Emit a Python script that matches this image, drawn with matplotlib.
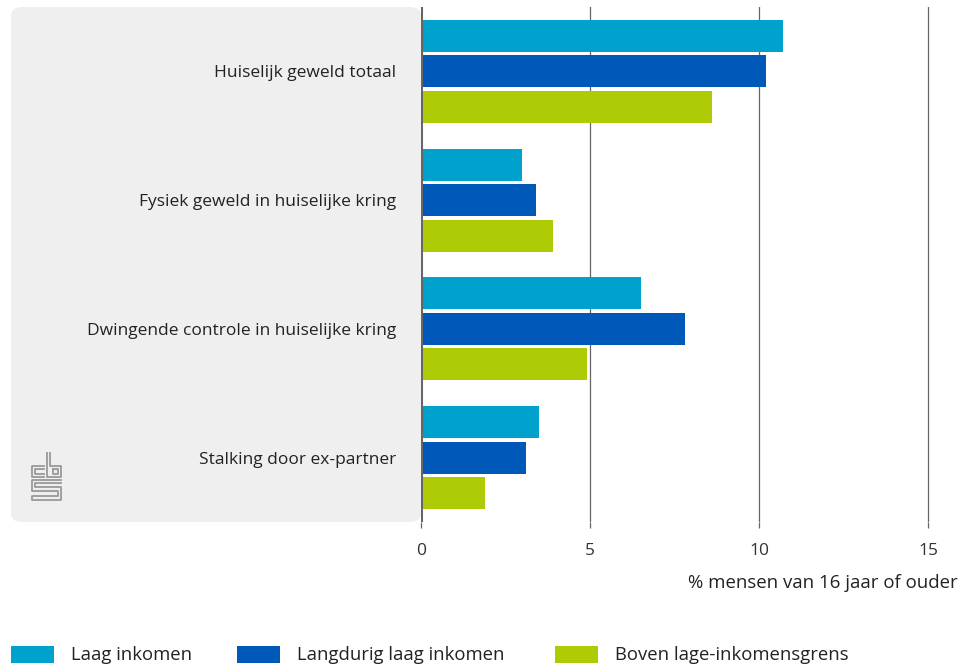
import numpy as np
import matplotlib.pyplot as plt
from matplotlib.patches import FancyBboxPatch, Rectangle
from matplotlib.lines import Line2D

plt.rcParams['font.family'] = ['Open Sans', 'DejaVu Sans']

# data
categories = ['Huiselijk geweld totaal', 'Fysiek geweld in huiselijke kring',
              'Dwingende controle in huiselijke kring', 'Stalking door ex-partner']
series = ['Laag inkomen', 'Langdurig laag inkomen', 'Boven lage-inkomensgrens']
laag = [10.7, 3.0, 6.5, 3.5]
langdurig = [10.2, 3.4, 7.8, 3.1]
boven = [8.6, 3.9, 4.9, 1.9]
xticks = [0, 5, 10, 15]
xlabel = '% mensen van 16 jaar of ouder'

colors = ['#00a1cd', '#0058b8', '#afcb05']
W, H = 968, 666
FS = 12.5

fig = plt.figure(figsize=(W / 100, H / 100), dpi=100)

# grey panel behind the category labels
panel = FancyBboxPatch((11 / W, 1 - 522 / H), (421 - 11) / W, (522 - 7) / H,
                       boxstyle='round,pad=0,rounding_size=0.012',
                       transform=fig.transFigure, facecolor='#efefef',
                       edgecolor='none', zorder=-1)
fig.patches.append(panel)

ax = fig.add_axes([421 / W, 1 - 522 / H, (968 - 421) / W, (522 - 7) / H])
ax.set_facecolor('none')

y = np.arange(len(categories))
step = 0.276
h = 0.249
for i, (vals, c) in enumerate(zip([laag, langdurig, boven], colors)):
    ax.barh(y + (i - 1) * step, vals, height=h, color=c, zorder=3)

ax.set_xlim(0, (968 - 421) / 33.8)
ax.set_ylim(len(categories) - 0.5, -0.5)

for s in ax.spines.values():
    s.set_visible(False)
ax.axvline(0, color='#666666', lw=2.2, zorder=4)
for t in xticks[1:]:
    ax.axvline(t, color='#666666', lw=0.9, zorder=1)

ax.set_xticks(xticks)
ax.set_xticklabels([str(t) for t in xticks], fontsize=FS, color='#333333')
ax.tick_params(axis='x', length=4, width=0.9, color='#666666', pad=11)
ax.set_yticks(y)
ax.set_yticklabels(categories, fontsize=FS, color='#222222')
ax.tick_params(axis='y', length=0, pad=18)

fig.text(958 / W, 1 - 583 / H, xlabel, ha='right', va='center',
         fontsize=13.4, color='#222222')

# legend
leg_x = [11, 237, 555]
for lx, lab, c in zip(leg_x, series, colors):
    fig.patches.append(Rectangle((lx / W, 1 - 663 / H), 43 / W, 17 / H,
                                 transform=fig.transFigure, facecolor=c,
                                 edgecolor='none'))
    fig.text((lx + 60) / W, 1 - 655 / H, lab, ha='left', va='center',
             fontsize=13.3, color='#222222')

# cbs logo (approximation)
logo = [
    [(44, 466), (32, 466), (32, 477), (44, 477)],
    [(44, 469), (35, 469), (35, 474), (44, 474)],
    [(47, 453), (47, 477), (61, 477), (61, 466), (50, 466), (50, 453)],
    [(53, 469), (58, 469), (58, 474), (53, 474), (53, 469)],
    [(61, 480), (32, 480), (32, 491), (58, 491), (58, 496), (32, 496), (32, 500),
     (61, 500), (61, 487), (35, 487), (35, 483), (61, 483)],
]
for pts in logo:
    xs = [p[0] / W for p in pts]
    ys = [1 - p[1] / H for p in pts]
    fig.lines.append(Line2D(xs, ys, transform=fig.transFigure,
                            color='#999999', lw=1.3))

fig.savefig('out.png', dpi=100)
